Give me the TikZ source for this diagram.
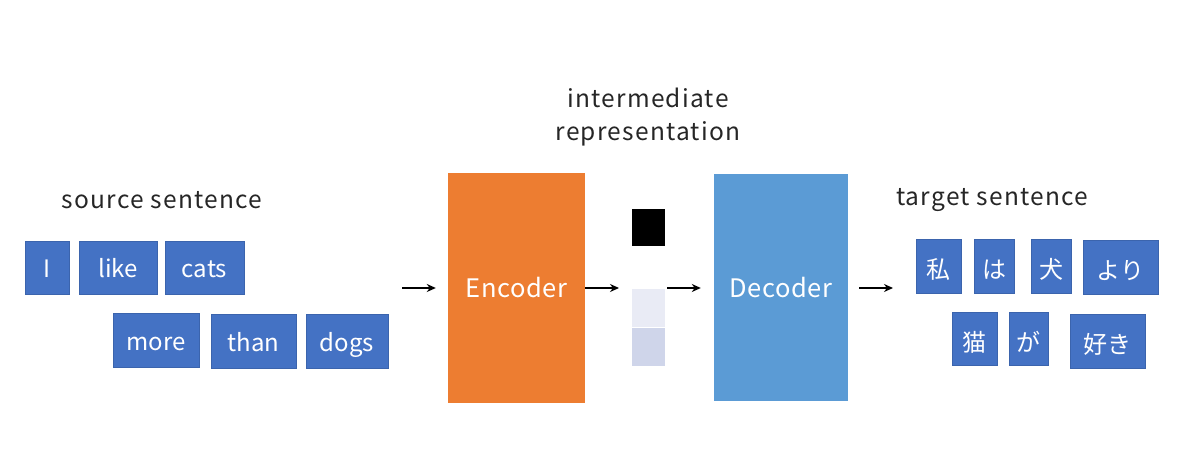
\documentclass[tikz,border=0pt]{standalone}
\usepackage{fontspec}
\setmainfont{Noto Sans CJK JP}
\newfontfamily\lblfont[LetterSpace=5]{Noto Sans CJK JP}
\newfontfamily\boxfont[LetterSpace=2]{Noto Sans CJK JP}
\usetikzlibrary{arrows.meta}
\definecolor{wblue}{HTML}{4472C4}
\definecolor{wborder}{HTML}{3B64AD}
\definecolor{encc}{HTML}{ED7D31}
\definecolor{decc}{HTML}{5B9BD5}
\definecolor{lightA}{HTML}{E9EBF5}
\definecolor{lightB}{HTML}{CFD5EA}
\tikzset{
  wbox/.style={draw=wborder, line width=0.8pt, fill=wblue, text=white, inner sep=0pt,
    text height=20pt, text depth=0pt,
    font=\fontsize{24}{28}\selectfont},
  jbox/.style={wbox, text height=25pt},
  bigbox/.style={inner sep=0pt, text=white, font=\boxfont\fontsize{25.5}{30}\selectfont},
  lbl/.style={inner sep=0pt, text=black!85, font=\lblfont\fontsize{24.5}{33}\selectfont, align=center},
  cell/.style={inner sep=0pt, draw=none},
  arr/.style={line width=1.4pt, -{Stealth[length=9pt,width=8pt]}}
}
\begin{document}
\begin{tikzpicture}[x=1pt,y=-1pt]
\useasboundingbox (0,0) rectangle (1200,465);
% labels
\node[lbl] (src) at (162,200) {source sentence};
\node[lbl] (tgt) at (992,200) {target sentence};
\node[lbl] (inter) at (648,117) {intermediate\\representation};
% source words
\node[wbox, minimum width=44pt, minimum height=53pt] (w1) at (47,267.5) {I};
\node[wbox, minimum width=78pt, minimum height=53pt] (w2) at (118,267.5) {like};
\node[wbox, minimum width=79pt, minimum height=53pt] (w3) at (204.5,267.5) {cats};
\node[wbox, minimum width=86pt, minimum height=54pt] (w4) at (156,340) {more};
\node[wbox, minimum width=85pt, minimum height=54pt] (w5) at (253.5,341) {than};
\node[wbox, minimum width=82pt, minimum height=54pt] (w6) at (347,341) {dogs};
% encoder / decoder
\node[bigbox, fill=encc, minimum width=137pt, minimum height=230pt] (enc) at (516.5,288) {Encoder};
\node[bigbox, fill=decc, minimum width=134pt, minimum height=227pt] (dec) at (781,287.5) {Decoder};
% intermediate cells
\node[cell, fill=black, minimum width=33pt, minimum height=37pt] (c1) at (648.5,227.5) {};
\node[cell, fill=lightA, minimum width=33pt, minimum height=38pt] (c2) at (648.5,308) {};
\node[cell, fill=lightB, minimum width=33pt, minimum height=38pt] (c3) at (648.5,347) {};
% target words
\node[jbox, minimum width=45pt, minimum height=54pt] (t1) at (938.5,266) {私};
\node[jbox, minimum width=40pt, minimum height=54pt] (t2) at (994,266) {は};
\node[jbox, minimum width=40pt, minimum height=54pt] (t3) at (1051,266) {犬};
\node[jbox, minimum width=75pt, minimum height=54pt] (t4) at (1120.5,267) {より};
\node[jbox, minimum width=45pt, minimum height=53pt] (t5) at (974.5,338.5) {猫};
\node[jbox, minimum width=39pt, minimum height=53pt] (t6) at (1028.5,338.5) {が};
\node[jbox, minimum width=75pt, minimum height=54pt] (t7) at (1107.5,341) {好き};
% arrows
\coordinate (a1s) at (402,288);
\coordinate (a2e) at (619,288);
\coordinate (a3s) at (667,288);
\coordinate (a4e) at (893,288);
\draw[arr, shorten >=12pt] (a1s) -- (enc.west |- a1s);
\draw[arr] (enc.east |- a2e) -- (a2e);
\draw[arr, shorten >=13pt] (a3s) -- (dec.west |- a3s);
\draw[arr, shorten <=11pt] (dec.east |- a4e) -- (a4e);
\end{tikzpicture}
\end{document}
